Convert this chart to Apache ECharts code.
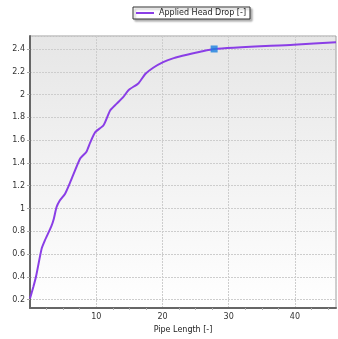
<!DOCTYPE html>
<html>
<head>
<meta charset="utf-8">
<script src="https://cdn.jsdelivr.net/npm/echarts@6/dist/echarts.min.js"></script>
<style>
  html, body { margin: 0; padding: 0; background: #ffffff; }
  #chart { width: 338px; height: 339px; }
</style>
</head>
<body>
<div id="chart"></div>
<script>
// Pipe length along the run and the applied head drop at each point
const pipeLength = [0, 0.5, 0.9, 1.75, 2.25, 3.2, 3.6, 4.0, 4.5, 5.3, 6.0, 6.6, 7.6, 8.5, 9.1, 9.85,
  11.1, 12.1, 13.1, 14.1, 14.9, 16.4, 17.4, 18.6, 20.1, 21.7, 23.7, 25.7, 27.8, 39.8, 46.2];
const headDrop = [0.21, 0.31, 0.40, 0.645, 0.72, 0.84, 0.91, 1.01, 1.07, 1.13, 1.22, 1.305, 1.44, 1.496, 1.58, 1.67,
  1.73, 1.86, 1.92, 1.98, 2.04, 2.10, 2.18, 2.235, 2.285, 2.32, 2.35, 2.376, 2.40, 2.438, 2.46];
// Highlighted operating point
const markerPoint = [27.8, 2.40];

const seriesName = 'Applied Head Drop [-]';
const xAxisName = 'Pipe Length [-]';

const font = 'DejaVu Sans, Verdana, sans-serif';
const chart = echarts.init(document.getElementById('chart'), null, { renderer: 'canvas' });

chart.setOption({
  animation: false,
  textStyle: { fontFamily: font },
  legend: {
    top: 7,
    left: 133,
    itemWidth: 18,
    itemHeight: 2,
    itemGap: 4,
    padding: [2, 4, 2, 3],
    borderColor: '#333',
    borderWidth: 1,
    backgroundColor: '#fff',
    shadowColor: 'rgba(0,0,0,0.3)',
    shadowOffsetX: 2,
    shadowOffsetY: 2,
    shadowBlur: 2,
    textStyle: { fontSize: 8, color: '#222', fontFamily: font },
    data: [{ name: seriesName, icon: 'rect' }]
  },
  grid: {
    left: 30, right: 2, top: 36, bottom: 31,
    show: true,
    borderColor: '#a0a0a0',
    borderWidth: 1,
    backgroundColor: new echarts.graphic.LinearGradient(0, 0, 0, 1, [
      { offset: 0, color: '#e6e6e6' },
      { offset: 1, color: '#ffffff' }
    ])
  },
  xAxis: {
    type: 'value',
    min: 0,
    max: 46.2,
    interval: 10,
    name: xAxisName,
    nameLocation: 'middle',
    nameGap: 15,
    nameTextStyle: { fontSize: 8, color: '#222' },
    axisLine: { lineStyle: { color: '#666', width: 2 } },
    axisTick: { show: false },
    minorTick: { show: true, splitNumber: 4, length: 2, lineStyle: { color: '#b0b0b0' } },
    axisLabel: { fontSize: 8, color: '#333', margin: 5, showMaxLabel: false, showMinLabel: false },
    splitLine: { lineStyle: { color: '#cdcdcd', type: [2, 1], width: 1 } }
  },
  yAxis: {
    type: 'value',
    min: 0.126,
    max: 2.514,
    splitNumber: 12,
    axisLine: { show: true, lineStyle: { color: '#666', width: 2 } },
    axisTick: { show: true, length: 3, lineStyle: { color: '#aaa' } },
    axisLabel: { fontSize: 8, color: '#333', margin: 5, showMinLabel: false, showMaxLabel: false },
    splitLine: { lineStyle: { color: '#cdcdcd', type: [2, 1], width: 1 } }
  },
  series: [
    {
      name: seriesName,
      type: 'line',
      data: pipeLength.map((x, i) => [x, headDrop[i]]),
      showSymbol: false,
      smooth: 0.2,
      color: '#8a3ee6',
      lineStyle: { width: 2, color: '#8a3ee6' }
    },
    {
      name: 'marker',
      type: 'scatter',
      data: [markerPoint],
      symbol: 'rect',
      symbolSize: 7,
      itemStyle: { color: '#1a80e0' },
      z: 5
    }
  ]
});
</script>
</body>
</html>
